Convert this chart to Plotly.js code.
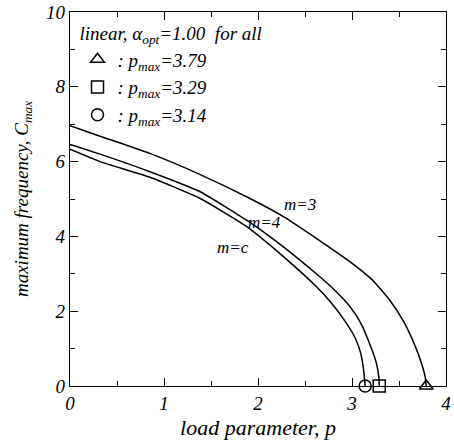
<!DOCTYPE html>
<html>
<head>
<meta charset="utf-8">
<script src="https://cdn.plot.ly/plotly-3.0.1.min.js"></script>
<style>
  html, body { margin: 0; padding: 0; background: #fff; }
  #chart { width: 454px; height: 447px; }
</style>
</head>
<body>
<div id="chart"></div>
<script>
// Maximum frequency C_max versus load parameter p (linear case, alpha_opt = 1.00)
const pM3 = [0, 0.32, 0.85, 1.38, 1.91, 2.27, 2.62, 2.98, 3.21, 3.40, 3.55, 3.67, 3.74, 3.78, 3.79];
const cM3 = [6.96, 6.68, 6.22, 5.66, 5.02, 4.53, 3.95, 3.32, 2.85, 2.30, 1.72, 1.08, 0.60, 0.22, 0];

const pM4 = [0, 0.32, 0.85, 1.38, 1.91, 2.27, 2.62, 2.80, 2.98, 3.10, 3.20, 3.26, 3.285, 3.29];
const cM4 = [6.46, 6.20, 5.73, 5.20, 4.38, 3.72, 3.00, 2.60, 2.12, 1.65, 1.05, 0.61, 0.25, 0];

const pMc = [0, 0.32, 0.85, 1.38, 1.88, 2.27, 2.62, 2.77, 2.94, 3.04, 3.09, 3.12, 3.14];
const cMc = [6.33, 6.00, 5.58, 5.02, 4.26, 3.46, 2.66, 2.25, 1.68, 1.25, 0.90, 0.50, 0];

// critical loads (frequency drops to zero)
const pMax = [3.79, 3.29, 3.14];
const pMaxSymbols = ['triangle-up-open', 'square-open', 'circle-open'];

const curveNames = ['m=3', 'm=4', 'm=c'];
const curveLabelX = [2.45, 2.07, 1.73];
const curveLabelY = [4.84, 4.36, 3.69];

const serif = 'Liberation Serif, Times New Roman, serif';
const italic = (size) => ({ family: serif, size: size, color: '#000', style: 'italic' });

const curves = [[pM3, cM3], [pM4, cM4], [pMc, cMc]];
const traces = curves.map(([p, c], i) => ({
  x: p, y: c, mode: 'lines', type: 'scatter',
  line: { color: '#000', width: 1.5, shape: 'spline', smoothing: 0.5 },
  showlegend: false, hoverinfo: 'skip', name: curveNames[i]
}));

pMax.forEach((p, i) => {
  traces.push({
    x: [p], y: [0], mode: 'markers', type: 'scatter',
    marker: { symbol: pMaxSymbols[i], size: 12, color: '#000', line: { width: 1.5, color: '#000' } },
    cliponaxis: false,
    name: ': p<sub>max</sub>=' + p.toFixed(2)
  });
});

const axisCommon = {
  showline: true, linecolor: '#000', linewidth: 1.2, mirror: 'ticks',
  ticks: 'inside', ticklen: 8, tickwidth: 1, tickcolor: '#000',
  showgrid: false, zeroline: false, tickfont: italic(19),
  minor: { ticks: 'inside', ticklen: 5, tickwidth: 1, tickcolor: '#000' }
};

const layout = {
  width: 454, height: 447,
  margin: { l: 70, r: 8, t: 12, b: 61 },
  paper_bgcolor: '#fff', plot_bgcolor: '#fff',
  xaxis: Object.assign({}, axisCommon, {
    range: [0, 4], tickvals: [0, 1, 2, 3, 4], minor: Object.assign({}, axisCommon.minor, { dtick: 0.5 }),
    title: { text: 'load parameter, p', font: italic(22), standoff: 6 }
  }),
  yaxis: Object.assign({}, axisCommon, {
    range: [0, 10], tickvals: [0, 2, 4, 6, 8, 10], minor: Object.assign({}, axisCommon.minor, { dtick: 1 }),
    title: { text: 'maximum frequency, C<sub>max</sub>', font: italic(19), standoff: 12 }
  }),
  legend: {
    x: 0.02, y: 0.99, xanchor: 'left', yanchor: 'top',
    bgcolor: 'rgba(0,0,0,0)', font: italic(19),
    title: { text: 'linear, α<sub>opt</sub>=1.00  for all', font: italic(19) },
    tracegroupgap: 0, itemwidth: 30
  },
  annotations: curveNames.map((n, i) => ({
    x: curveLabelX[i], y: curveLabelY[i], xref: 'x', yref: 'y',
    text: n, showarrow: false, font: italic(17)
  })),
  showlegend: true
};

Plotly.newPlot('chart', traces, layout, { displayModeBar: false, staticPlot: true });
</script>
</body>
</html>
